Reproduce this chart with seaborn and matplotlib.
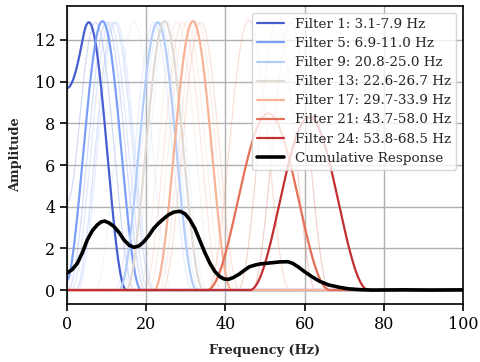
import numpy as np
import pandas as pd
import matplotlib
matplotlib.use("Agg")
import matplotlib.pyplot as plt
import seaborn as sns

# Filter bank: centre frequency (Hz), main-lobe width (Hz) and peak gain per filter
filter_centers = [5.5, 7.2, 10.0, 11.9, 8.95, 10.8, 12.4, 21.9, 22.9, 23.6, 16.9, 25.5,
                  24.65, 27.8, 30.3, 32.9, 31.8, 29.2, 33.8, 45.9, 50.85, 53.0, 56.5, 61.15]
filter_widths = [19.0, 19.6, 19.6, 19.6, 19.6, 19.6, 19.6, 19.6, 19.6, 19.6, 19.6, 19.6,
                 19.6, 19.6, 19.6, 19.6, 19.6, 19.6, 19.6, 20.6, 31.0, 19.6, 19.6, 30.0]
filter_peaks = [12.85, 12.85, 12.85, 12.85, 12.9, 12.85, 12.85, 12.85, 12.85, 12.85, 12.85, 12.85,
                12.9, 12.85, 12.85, 12.85, 12.9, 12.85, 12.85, 12.95, 8.48, 12.85, 12.85, 8.3]

# Filters shown in the legend, with their pass bands
highlight_ids = [1, 5, 9, 13, 17, 21, 24]
band_low = [3.1, 6.9, 20.8, 22.6, 29.7, 43.7, 53.8]
band_high = [7.9, 11.0, 25.0, 26.7, 33.9, 58.0, 68.5]

# Cumulative (average) response of the whole bank
cum_freq = [0, 1.3, 2.6, 3.9, 5.1, 6.4, 7.6, 8.6, 9.5, 10.6, 11.9, 13.2, 14.4, 15.7, 16.9,
            18.2, 19.4, 20.7, 21.9, 23.2, 24.5, 25.7, 27.0, 28.5, 29.8, 31.0, 32.3, 33.5,
            34.8, 36.1, 37.3, 38.6, 39.7, 40.7, 42.0, 43.6, 45.0, 46.1, 47.5, 48.7, 51.2,
            53.7, 55.8, 57.0, 58.3, 60.0, 62.0, 63.8, 66.0, 68.8, 71.0, 73.9, 77.0, 85.0,
            92.0, 100.0]
cum_amp = [0.82, 0.98, 1.28, 1.8, 2.4, 2.85, 3.12, 3.27, 3.31, 3.22, 3.04, 2.75, 2.4, 2.15,
           2.05, 2.12, 2.32, 2.62, 2.96, 3.22, 3.44, 3.62, 3.74, 3.78, 3.66, 3.38, 2.95, 2.4,
           1.8, 1.28, 0.9, 0.64, 0.53, 0.51, 0.6, 0.78, 0.98, 1.12, 1.2, 1.25, 1.3, 1.35,
           1.36, 1.28, 1.12, 0.88, 0.62, 0.42, 0.25, 0.13, 0.06, 0.02, 0.0, 0.01, 0.0, 0.01]

freq = np.linspace(0, 100, 1001)


def lobe(f, center, width, peak):
    """Raised-cosine main lobe of a band-pass magnitude response."""
    d = np.abs(f - center)
    return np.where(d < width / 2, peak * np.cos(np.pi * d / width) ** 2, 0.0)


def response(center, width, peak):
    # positive-frequency lobe plus its negative-frequency image
    return lobe(freq, center, width, peak) + lobe(freq, -center, width, peak)


sns.set_style("ticks")
plt.rcParams["font.family"] = ["DejaVu Serif"]

fig = plt.figure(figsize=(4.8, 3.62), dpi=100)
ax = fig.add_axes([0.1396, 0.1602, 0.825, 0.8232])

n_filters = len(filter_centers)
colors = sns.color_palette("coolwarm", n_filters)

# all filters, faint
for i in range(n_filters):
    if (i + 1) in highlight_ids:
        continue
    df = pd.DataFrame({"f": freq, "a": response(filter_centers[i], filter_widths[i], filter_peaks[i])})
    sns.lineplot(data=df, x="f", y="a", ax=ax, color=colors[i], alpha=0.25, lw=0.9)

# selected filters
for k, fid in enumerate(highlight_ids):
    i = fid - 1
    df = pd.DataFrame({"f": freq, "a": response(filter_centers[i], filter_widths[i], filter_peaks[i])})
    sns.lineplot(data=df, x="f", y="a", ax=ax, color=colors[i], lw=1.6,
                 label=f"Filter {fid}: {band_low[k]:.1f}-{band_high[k]:.1f} Hz")

cum_df = pd.DataFrame({"f": cum_freq, "a": cum_amp})
sns.lineplot(data=cum_df, x="f", y="a", ax=ax, color="black", lw=2.6,
             label="Cumulative Response")

ax.set_xlim(0, 100)
ax.set_ylim(-0.67, 13.63)
ax.set_xticks([0, 20, 40, 60, 80, 100])
ax.set_yticks([0, 2, 4, 6, 8, 10, 12])
ax.grid(True, color="#b0b0b0", lw=1.0)
ax.set_axisbelow(True)
for s in ax.spines.values():
    s.set_color("black")
    s.set_linewidth(1.2)
ax.tick_params(axis="both", labelsize=11.5, length=5, width=1.2, colors="black")
ax.set_xlabel("Frequency (Hz)", fontsize=9.3, fontweight="bold", labelpad=8)
ax.set_ylabel("Amplitude", fontsize=9.3, fontweight="bold", labelpad=9)

ax.legend(loc="upper right", fontsize=9.7, framealpha=0.8, handlelength=2.0,
          borderpad=0.4, labelspacing=0.45)

fig.savefig("out.png", dpi=100)
